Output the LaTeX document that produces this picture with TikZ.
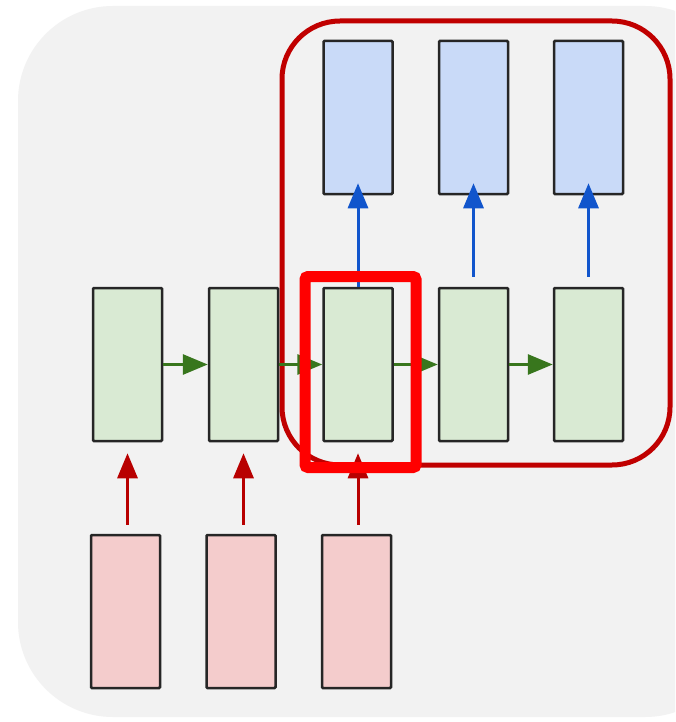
\documentclass[tikz,border=0pt]{standalone}
\usetikzlibrary{arrows.meta}
\definecolor{bgc}{HTML}{F2F2F2}
\definecolor{gfill}{HTML}{D9EAD3}
\definecolor{bfill}{HTML}{C9DAF8}
\definecolor{rfill}{HTML}{F4CCCC}
\definecolor{edge}{HTML}{262626}
\definecolor{garrow}{HTML}{38761D}
\definecolor{barrow}{HTML}{1155CC}
\definecolor{rarrow}{HTML}{B80000}
\definecolor{darkred}{HTML}{C00000}
\definecolor{brightred}{HTML}{FF0000}
\tikzset{
  cell/.style={draw=edge, line width=2.5pt, minimum width=69pt, minimum height=153pt, inner sep=0pt, rounded corners=1pt},
  hid/.style={cell, fill=gfill},
  outc/.style={cell, fill=bfill},
  inc/.style={cell, fill=rfill},
  conn/.style={line width=3pt, -{Triangle[length=25pt,width=20pt]}},
}
\begin{document}
\begin{tikzpicture}[x=1pt,y=-1pt]
\clip (0,0) rectangle (675,722);
\fill[white] (0,0) rectangle (675,722);
\fill[bgc, rounded corners=95pt] (18,6) rectangle (740,717);
\draw[darkred, line width=5pt, rounded corners=58pt] (282,21) rectangle (670,465);
% hidden row
\node[hid] (g1) at (127.5,364.5) {};
\node[hid] (g2) at (243.5,364.5) {};
\node[hid] (g3) at (358,364.5) {};
\node[hid] (g4) at (473.5,364.5) {};
\node[hid] (g5) at (588.5,364.5) {};
% outputs
\node[outc] (o3) at (358,117.5) {};
\node[outc] (o4) at (473.5,117.5) {};
\node[outc] (o5) at (588.5,117.5) {};
% inputs
\node[inc] (i1) at (125.5,611.5) {};
\node[inc] (i2) at (241,611.5) {};
\node[inc] (i3) at (356.5,611.5) {};
% recurrent arrows
\foreach \a/\b in {g1/g2,g2/g3,g3/g4,g4/g5}
  \draw[conn, garrow] (\a.east) -- (\b.west);
% output arrows
\draw[conn, barrow] (g3.north) -- ([yshift=12pt]o3.south);
\draw[conn, barrow] ([yshift=10pt]g4.north) -- ([yshift=12pt]o4.south);
\draw[conn, barrow] ([yshift=10pt]g5.north) -- ([yshift=12pt]o5.south);
% input arrows
\foreach \i/\g in {i1/g1,i2/g2,i3/g3}
  \draw[conn, rarrow] ([yshift=9pt]\g.south |- \i.north) -- ([yshift=-11pt]\g.south);
% highlight
\node[draw=brightred, line width=11pt, rounded corners=3pt, inner sep=0pt,
      minimum width=111pt, minimum height=191pt] (hl) at (360.5,372) {};
\end{tikzpicture}
\end{document}
